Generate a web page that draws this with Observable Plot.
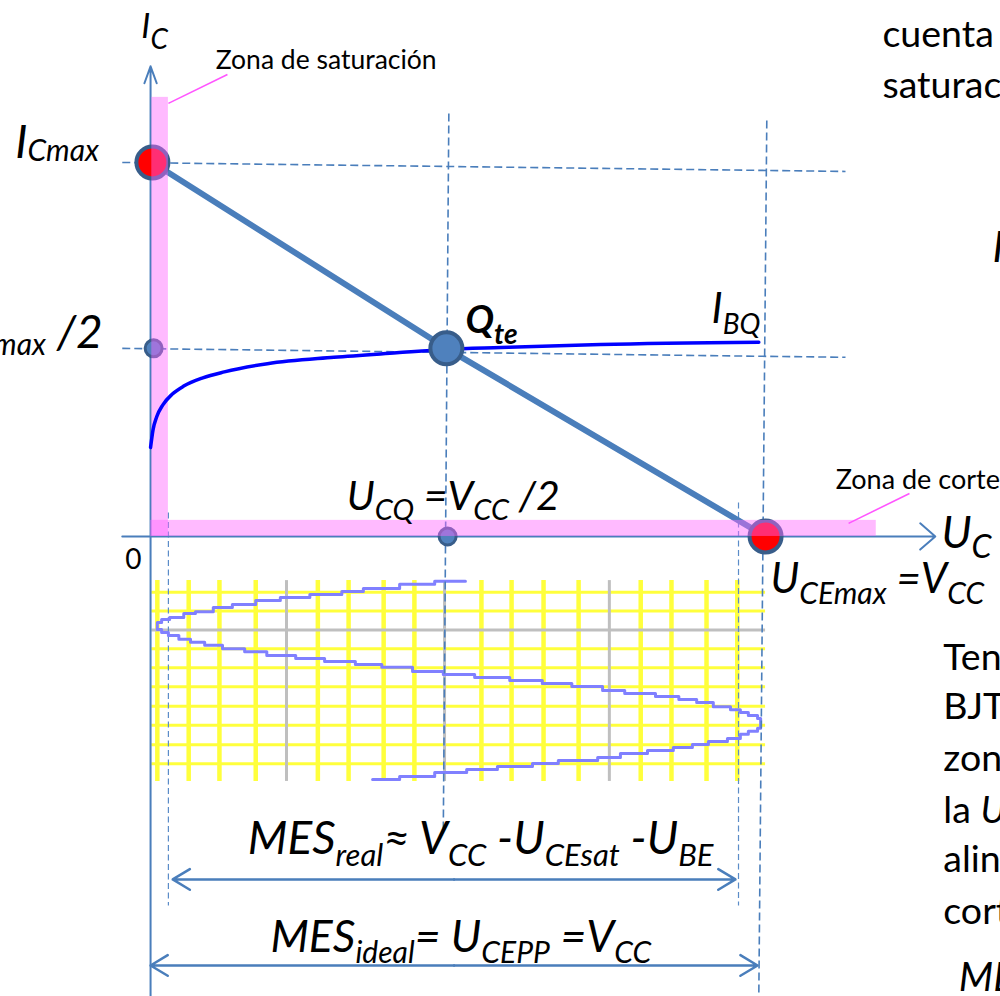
<!DOCTYPE html>
<html><head><meta charset="utf-8">
<script src="https://cdn.jsdelivr.net/npm/d3@7"></script>
<script src="https://cdn.jsdelivr.net/npm/@observablehq/plot@0.6"></script>
<style>
html,body{margin:0;padding:0;background:#fff;overflow:hidden;}
#chart{width:1000px;height:996px;overflow:hidden;}
#chart svg{overflow:hidden;}
#chart text{white-space:pre;}
</style></head><body><div id="chart"></div>
<script>
// ---- values (U_CE in volts with V_CC = 10, I_C in mA with I_Cmax = 10; lower panel: time axis, negative) ----
const VCC = 10, ICMAX = 10;

const loadLineU = [0.03, 4.81, 10.0];
const loadLineI = [10.0, 5.03, 0.0];

const ibqU = [0.00, 0.04, 0.10, 0.20, 0.35, 0.54, 0.85, 1.20, 1.90, 2.98, 4.00, 4.81, 5.69, 7.32, 9.89];
const ibqI = [2.38, 2.85, 3.20, 3.52, 3.80, 4.02, 4.24, 4.40, 4.62, 4.79, 4.91, 5.00, 5.05, 5.13, 5.19];

const pointNames = ["I_Cmax", "Q", "I_Cmax/2", "U_CQ", "U_CEmax"];
const pointU = [0.03, 4.81, 0.05, 4.83, 10.0];
const pointI = [10.0, 5.03, 5.03, 0.0, 0.0];

// dashed guides (start/end)
const guideU1 = [-0.46, -0.46, 4.85, 10.02];
const guideI1 = [10.00, 5.03, 11.31, 11.12];
const guideU2 = [11.30, 11.30, 4.76, 9.89];
const guideI2 = [9.76, 4.79, -7.81, -12.30];
// thin limit lines (saturation / cut-off)
const limitU = [0.29, 9.56];
const limitTop = [0.64, 0.91];
const limitBottom = [-9.87, -9.87];

// zones
const satZone = {u1: 0.02, u2: 0.29, i1: 0, i2: 11.74};
const cutZone = {u1: 0.0, u2: 11.80, i1: 0, i2: 0.43};
const calloutU1 = [0.29, 11.35], calloutI1 = [11.58, 0.35];
const calloutU2 = [1.25, 12.34], calloutI2 = [12.35, 1.15];

// axes
const axisY = {u: 0, i1: -12.30, i2: 12.57};
const axisX = {i: 0, u1: -0.46, u2: 12.76};

// swing arrows
const mesNames = ["real", "ideal"];
const mesU1 = [0.36, 0.0], mesU2 = [9.51, 9.87], mesI = [-9.17, -11.47];

// lower panel grid
const gridColsMinor = [0.11, 0.62, 1.12, 1.71, 2.72, 3.22, 3.79, 4.29, 5.38, 5.87, 6.39, 6.96, 7.97, 8.47, 9.04, 9.54];
const gridColsMajor = [2.21, 4.78, 7.46];
const gridRowsMinor = [-1.49, -1.99, -3.00, -3.51, -4.02, -4.54, -5.05, -5.57, -6.08];
const gridRowsMajor = [-2.50];
const gridColSpan = [-1.18, -6.55];
const gridRowSpan = [0.02, 10.0];

// output swing (U_CE vs time, stepped trace)
const waveU = [5.12,4.62,4.05,3.46,3.11,2.59,2.11,1.71,1.33,1.02,0.73,0.54,0.31,0.18,0.11,0.11,0.18,0.29,0.46,0.65,0.88,1.17,1.53,1.89,2.36,2.83,3.33,3.76,4.26,4.76,5.27,5.84,6.37,6.85,7.35,7.71,8.21,8.59,8.88,9.15,9.43,9.59,9.72,9.87,9.92,9.92,9.87,9.72,9.59,9.38,9.07,8.81,8.50,8.08,7.64,7.27,6.63,6.21,5.64,5.14,4.62,4.05,3.61];
const waveT = [-1.20,-1.28,-1.39,-1.47,-1.55,-1.63,-1.71,-1.82,-1.90,-2.01,-2.06,-2.17,-2.22,-2.30,-2.35,-2.49,-2.57,-2.65,-2.75,-2.83,-2.91,-3.00,-3.08,-3.18,-3.26,-3.34,-3.42,-3.50,-3.61,-3.69,-3.77,-3.85,-3.93,-4.01,-4.12,-4.20,-4.28,-4.36,-4.44,-4.55,-4.63,-4.71,-4.79,-4.87,-4.95,-5.13,-5.21,-5.29,-5.40,-5.48,-5.56,-5.64,-5.72,-5.80,-5.91,-5.99,-6.07,-6.15,-6.23,-6.31,-6.42,-6.50,-6.50];

// texts
const labelTexts = [
  "I_{C}", "I_{Cmax}", "I_{Cmax} /2", "Q_{te}", "I_{BQ}",
  "U_{CQ} =V_{CC} /2", "U_{C}", "U_{CEmax} =V_{CC}", "0",
  "Zona de saturación", "Zona de corte",
  "MES_{real}≈ V_{CC} -U_{CEsat} -U_{BE}", "MES_{ideal}= U_{CEPP} =V_{CC}",
  "cuenta", "saturac", "I", "Ten", "BJT", "zon", "la *U*", "alin", "cort", "MES"
];
const labelU = [-0.15, -2.20, -0.78, 5.12, 9.12, 3.19, 12.86, 10.08, -0.41, 1.06, 11.14, 1.58, 1.95, 11.90, 11.90, 13.69, 12.89, 12.89, 12.89, 12.89, 12.89, 12.89, 13.14];
const labelI = [13.32, 10.13, 5.03, 5.43, 5.72, 0.70, -0.32, -1.50, -0.86, 12.51, 1.28, -8.48, -11.12, 13.08, 11.71, 7.33, -3.58, -4.87, -6.26, -7.65, -8.98, -10.35, -12.14];

// ---- presentation ----
const labelStyle = [
  {size:34, sub:28, shift:11, style:"italic"},
  {size:46, sub:30, shift:3, style:"italic"},
  {size:46, sub:30, shift:7, style:"italic", anchor:"end"},
  {size:38, sub:28, shift:11, style:"italic", weight:"bold"},
  {size:42, sub:28, shift:11, style:"italic"},
  {size:41, sub:29, shift:10, style:"italic"},
  {size:44, sub:32, shift:10, style:"italic"},
  {size:42, sub:30, shift:11, style:"italic"},
  {size:28},
  {size:26.5},
  {size:27},
  {size:46, sub:31, shift:12, style:"italic"},
  {size:44.5, sub:30, shift:11, style:"italic"},
  {size:37.5}, {size:37.5},
  {size:42, style:"italic"},
  {size:37.5}, {size:37.5}, {size:37.5}, {size:37.5}, {size:37.5}, {size:37.5},
  {size:40, style:"italic"}
];

const BLUE = "#4a7ebb", DOT_EDGE = "#385d8a", DOT_FILL = "#4f81bd";
const zip = (a, b) => a.map((v, k) => [v, b[k]]);
const idx = n => d3.range(n);

const svg = Plot.plot({
  width: 1000, height: 996, margin: 0,
  style: {fontFamily: "Lato, 'DejaVu Sans', sans-serif", background: "white"},
  x: {domain: [-2.44, 13.82], axis: null},
  y: {domain: [-12.30, 14.33], axis: null},
  marks: [
    // grid of the lower panel
    Plot.ruleX(gridColsMinor, {x: d => d, y1: gridColSpan[0], y2: gridColSpan[1], stroke: "#ffff3c", strokeWidth: 4.5}),
    Plot.ruleY(gridRowsMinor, {y: d => d, x1: gridRowSpan[0], x2: gridRowSpan[1], stroke: "#ffff3c", strokeWidth: 3}),
    Plot.ruleX(gridColsMajor, {x: d => d, y1: gridColSpan[0], y2: gridColSpan[1], stroke: "#bfbfbf", strokeWidth: 3}),
    Plot.ruleY(gridRowsMajor, {y: d => d, x1: gridRowSpan[0], x2: gridRowSpan[1], stroke: "#bfbfbf", strokeWidth: 3}),
    // thin limit lines
    Plot.link(idx(2), {x1: k => limitU[k], y1: k => limitTop[k], x2: k => limitU[k], y2: k => limitBottom[k],
      stroke: "#5b8cc8", strokeWidth: 1.2, strokeDasharray: "6,3.5"}),
    // output swing
    Plot.line(zip(waveU, waveT), {curve: "step-after", stroke: "#8080ff", strokeWidth: 3}),
    // dashed guides
    Plot.link(idx(4), {x1: k => guideU1[k], y1: k => guideI1[k], x2: k => guideU2[k], y2: k => guideI2[k],
      stroke: BLUE, strokeWidth: 1.6, strokeDasharray: "8,4"}),
    // axes
    Plot.arrow([axisY], {x1: d => d.u, y1: d => d.i1, x2: d => d.u, y2: d => d.i2, stroke: BLUE, strokeWidth: 2, headAngle: 40, headLength: 13.5}),
    Plot.arrow([axisX], {x1: d => d.u1, y1: d => d.i, x2: d => d.u2, y2: d => d.i, stroke: BLUE, strokeWidth: 2, headAngle: 82, headLength: 15}),
    // load line
    Plot.line(zip(loadLineU, loadLineI), {stroke: BLUE, strokeWidth: 6}),
    // end points and ticks (under the zones)
    Plot.dot(idx(5).filter(k => k === 0 || k === 4), {x: k => pointU[k], y: k => pointI[k], r: 16, fill: "#ff0000", stroke: DOT_EDGE, strokeWidth: 4}),
    Plot.dot(idx(5).filter(k => k === 2 || k === 3), {x: k => pointU[k], y: k => pointI[k], r: 8.5, fill: DOT_FILL, stroke: DOT_EDGE, strokeWidth: 3}),
    // zones
    Plot.rect([satZone, cutZone], {x1: "u1", x2: "u2", y1: "i1", y2: "i2", fill: "#ff66ff", fillOpacity: 0.45}),
    Plot.link(idx(2), {x1: k => calloutU1[k], y1: k => calloutI1[k], x2: k => calloutU2[k], y2: k => calloutI2[k], stroke: "#ff55ff", strokeWidth: 1.6}),
    // base current characteristic
    Plot.line(zip(ibqU, ibqI), {curve: "monotone-x", stroke: "#0000ff", strokeWidth: 3.5}),
    // Q point
    Plot.dot([1], {x: k => pointU[k], y: k => pointI[k], r: 16, fill: DOT_FILL, stroke: DOT_EDGE, strokeWidth: 4}),
    // swing arrows (double-headed)
    Plot.arrow(idx(2), {x1: k => (mesU1[k] + mesU2[k]) / 2, y1: k => mesI[k], x2: k => mesU1[k], y2: k => mesI[k], stroke: BLUE, strokeWidth: 2.5, headAngle: 62, headLength: 12}),
    Plot.arrow(idx(2), {x1: k => (mesU1[k] + mesU2[k]) / 2, y1: k => mesI[k], x2: k => mesU2[k], y2: k => mesI[k], stroke: BLUE, strokeWidth: 2.5, headAngle: 62, headLength: 12}),
    // labels
    Plot.text(idx(labelTexts.length), {x: k => labelU[k], y: k => labelI[k], text: k => labelTexts[k],
      fontSize: k => labelStyle[k].size, textAnchor: "start", lineAnchor: "bottom", fill: "black"})
  ]
});

function segments(str) {
  const out = []; let it = false, sub = false, buf = "";
  for (let k = 0; k < str.length; k++) {
    const c = str[k];
    if (c === "_" && str[k + 1] === "{") { if (buf) out.push({t: buf, sub: false, it}); buf = ""; sub = true; k++; continue; }
    if (c === "}" && sub) { out.push({t: buf, sub: true, it}); buf = ""; sub = false; continue; }
    if (c === "*") { if (buf) out.push({t: buf, sub, it}); buf = ""; it = !it; continue; }
    buf += c;
  }
  if (buf) out.push({t: buf, sub: false, it});
  return out;
}

const textGroups = d3.select(svg).selectAll('g[aria-label="text"]');
textGroups.selectAll("text").each(function (_, k) {
  const L = labelStyle[k];
  const el = d3.select(this);
  el.text(null).attr("y", null)
    .attr("font-size", L.size)
    .attr("font-style", L.style || "normal")
    .attr("font-weight", L.weight || "normal")
    .attr("text-anchor", L.anchor || "start");
  let inSub = false;
  for (const s of segments(labelTexts[k])) {
    const t = el.append("tspan").text(s.t);
    if (s.sub) { t.attr("font-size", L.sub); if (!inSub) t.attr("dy", L.shift); inSub = true; }
    else { if (inSub) t.attr("dy", -L.shift); inSub = false; }
    if (s.it) t.attr("font-style", (L.style || "normal") === "italic" ? "normal" : "italic");
  }
});

document.getElementById("chart").appendChild(svg);
</script></body></html>
